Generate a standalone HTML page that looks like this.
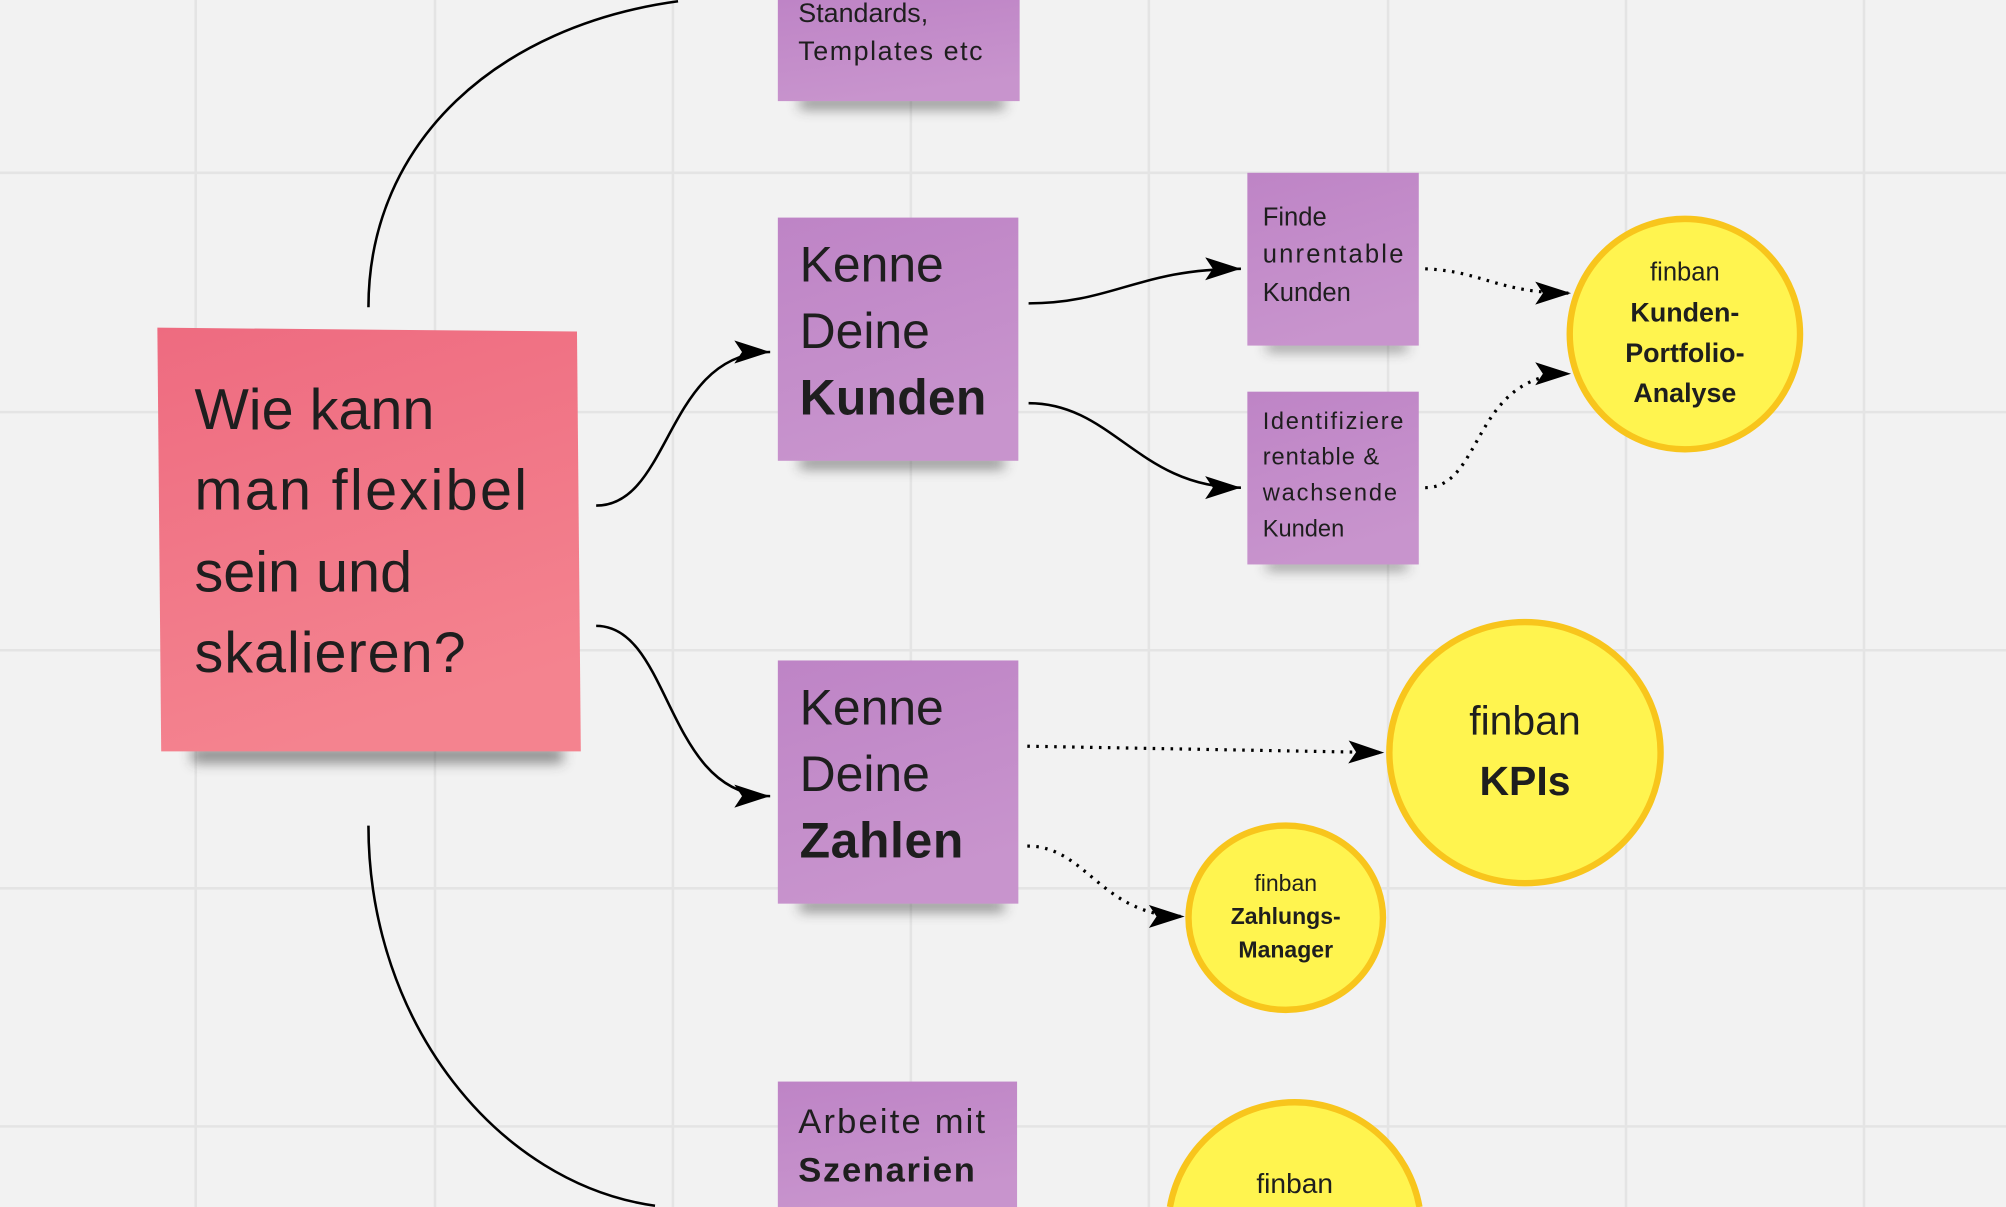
<!DOCTYPE html>
<html><head><meta charset="utf-8"><style>
html,body{margin:0;padding:0;background:#f2f2f2;width:2006px;height:1207px;overflow:hidden;}
svg{display:block;}
text{font-family:"Liberation Sans",sans-serif;fill:#1e1e1e;}
.b{font-weight:bold;}
</style></head><body>
<svg width="2006" height="1207" viewBox="0 0 1568 943" preserveAspectRatio="none" xmlns="http://www.w3.org/2000/svg">
<defs>
<marker id="ar" markerUnits="userSpaceOnUse" markerWidth="30" markerHeight="20" refX="28" refY="9" orient="auto">
<path d="M0,0 L28,9 L0,18 L6,9 z" fill="#000"/></marker>
<filter id="bl" x="-20%" y="-200%" width="140%" height="500%"><feGaussianBlur stdDeviation="5"/></filter>
<linearGradient id="pk" x1="0" y1="0" x2="0.3" y2="1"><stop offset="0" stop-color="#ee6b80"/><stop offset="1" stop-color="#f4838f"/></linearGradient>
<linearGradient id="pu" x1="0" y1="0" x2="0.3" y2="1"><stop offset="0" stop-color="#be84c6"/><stop offset="1" stop-color="#c894cd"/></linearGradient>
</defs>
<rect width="1568" height="943" fill="#f2f2f2"/>
<g stroke="#e4e4e4" stroke-width="2">
<line x1="153" y1="0" x2="153" y2="943"/><line x1="340" y1="0" x2="340" y2="943"/><line x1="526" y1="0" x2="526" y2="943"/><line x1="712" y1="0" x2="712" y2="943"/><line x1="898" y1="0" x2="898" y2="943"/><line x1="1085" y1="0" x2="1085" y2="943"/><line x1="1271" y1="0" x2="1271" y2="943"/><line x1="1457" y1="0" x2="1457" y2="943"/>
<line x1="0" y1="135" x2="1568" y2="135"/><line x1="0" y1="322" x2="1568" y2="322"/><line x1="0" y1="508" x2="1568" y2="508"/><line x1="0" y1="694" x2="1568" y2="694"/><line x1="0" y1="880" x2="1568" y2="880"/>
</g>
<g fill="#333" opacity="0.55" filter="url(#bl)">
<rect x="150" y="584" width="290" height="12"/>
<rect x="625" y="76" width="160" height="9"/>
<rect x="625" y="357" width="160" height="9"/>
<rect x="625" y="703" width="160" height="9"/>
<rect x="990" y="267" width="110" height="7"/>
<rect x="990" y="438" width="110" height="7"/>
</g>
<g fill="none" stroke="#000" stroke-width="2">
<path d="M288,240 C288,110 390,20 530,1"/>
<path d="M288,645 C288,800 390,925 512,942"/>
<path d="M466,395 C525,395 520,275 602,275" marker-end="url(#ar)"/>
<path d="M466,489 C525,489 520,622 602,622" marker-end="url(#ar)"/>
<path d="M804,237 C870,237 890,210 970,210" marker-end="url(#ar)"/>
<path d="M804,315 C870,315 890,381 970,381" marker-end="url(#ar)"/>
<g stroke-dasharray="2,5" stroke-width="2.5">
<path d="M1114,210 C1160,212 1170,229 1228,229" marker-end="url(#ar)"/>
<path d="M1114,381 C1160,381 1150,292 1228,292" marker-end="url(#ar)"/>
<path d="M803,583 L1082,588" marker-end="url(#ar)"/>
<path d="M803,661 C850,661 860,716 926,716" marker-end="url(#ar)"/>
</g>
</g>
<polygon points="123,256 451,259 454,587 126,587" fill="url(#pk)"/>
<text x="152" y="335" font-size="45">Wie kann</text>
<text x="152" y="398" font-size="45" textLength="260">man flexibel</text>
<text x="152" y="462" font-size="45">sein und</text>
<text x="152" y="525" font-size="45" textLength="212">skalieren?</text>

<rect x="608" y="0" width="189" height="79" fill="url(#pu)"/>
<text x="624" y="17" font-size="21">Standards,</text>
<text x="624" y="47" font-size="21" textLength="144">Templates etc</text>

<rect x="608" y="170" width="188" height="190" fill="url(#pu)"/>
<text x="625" y="220" font-size="39">Kenne</text>
<text x="625" y="272" font-size="39">Deine</text>
<text x="625" y="324" font-size="39" class="b" textLength="146">Kunden</text>

<rect x="608" y="516" width="188" height="190" fill="url(#pu)"/>
<text x="625" y="566" font-size="39">Kenne</text>
<text x="625" y="618" font-size="39">Deine</text>
<text x="625" y="670" font-size="39" class="b" textLength="128">Zahlen</text>

<rect x="608" y="845" width="187" height="98" fill="url(#pu)"/>
<text x="624" y="885" font-size="27" textLength="146">Arbeite mit</text>
<text x="624" y="923" font-size="27" class="b" textLength="138">Szenarien</text>

<rect x="975" y="135" width="134" height="135" fill="url(#pu)"/>
<text x="987" y="176" font-size="20">Finde</text>
<text x="987" y="205" font-size="20" textLength="110">unrentable</text>
<text x="987" y="235" font-size="20">Kunden</text>

<rect x="975" y="306" width="134" height="135" fill="url(#pu)"/>
<text x="987" y="335" font-size="18.5" textLength="110">Identifiziere</text>
<text x="987" y="363" font-size="18.5" textLength="91">rentable &amp;</text>
<text x="987" y="391" font-size="18.5" textLength="105">wachsende</text>
<text x="987" y="419" font-size="18.5">Kunden</text>

<g fill="#fff44f" stroke="#f8c51c" stroke-width="5">
<ellipse cx="1317" cy="261" rx="90" ry="90"/>
<ellipse cx="1192" cy="588" rx="106" ry="102"/>
<ellipse cx="1005" cy="717" rx="76" ry="72"/>
</g>
<path d="M914.5,943 A99,99 0 0 1 1109.5,943 Z" fill="#fff44f"/>
<path d="M914.5,943 A99,99 0 0 1 1109.5,943" fill="none" stroke="#f8c51c" stroke-width="5"/>
<g text-anchor="middle">
<text x="1317" y="219" font-size="20">finban</text>
<text x="1317" y="251" font-size="21" class="b">Kunden-</text>
<text x="1317" y="283" font-size="21" class="b">Portfolio-</text>
<text x="1317" y="314" font-size="21" class="b">Analyse</text>
<text x="1192" y="574" font-size="32">finban</text>
<text x="1192" y="621" font-size="32" class="b">KPIs</text>
<text x="1005" y="696" font-size="18">finban</text>
<text x="1005" y="722" font-size="18" class="b">Zahlungs-</text>
<text x="1005" y="748" font-size="18" class="b">Manager</text>
<text x="1012" y="932" font-size="22">finban</text>
</g>
</svg>
</body></html>
